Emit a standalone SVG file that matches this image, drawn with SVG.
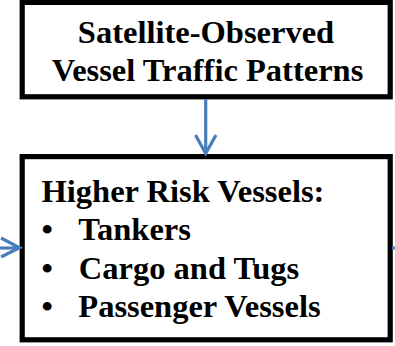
<svg xmlns="http://www.w3.org/2000/svg" width="395" height="346" viewBox="0 0 395 346">
<style>
.box{fill:#fff;stroke:#000;stroke-width:5.2}
.t{font-family:"Liberation Serif","Times New Roman",serif;font-weight:bold;font-size:32.5px;fill:#000}
.c{fill:none;stroke:#4a7ebb;stroke-width:3.2}
</style>
<rect width="395" height="346" fill="#fff"/>
<g id="node-top">
<rect class="box" x="22.2" y="2.4" width="368" height="94.4"/>
<text class="t" x="206" y="43.3" text-anchor="middle">Satellite-Observed</text>
<text class="t" x="207.5" y="81.3" text-anchor="middle">Vessel Traffic Patterns</text>
</g>
<g id="node-bottom">
<rect class="box" x="22.2" y="156.6" width="368" height="183.2"/>
<text class="t" x="41.5" y="201.7">Higher Risk Vessels:</text>
<text class="t" x="41.5" y="240.2">•</text><text class="t" x="78.3" y="240.2">Tankers</text>
<text class="t" x="41.5" y="278.7">•</text><text class="t" x="78.8" y="278.7">Cargo and Tugs</text>
<text class="t" x="41.5" y="317.2">•</text><text class="t" x="78.3" y="317.2">Passenger Vessels</text>
</g>
<g id="connectors">
<line class="c" x1="205.7" y1="99" x2="205.7" y2="153"/>
<polyline class="c" points="195.5,135 205.7,153.5 216,135"/>
<line class="c" x1="0" y1="248" x2="19" y2="248"/>
<polyline class="c" points="1,238 19.5,247.8 1,257"/>
<line class="c" x1="392" y1="248" x2="395" y2="248"/>
</g>
</svg>
